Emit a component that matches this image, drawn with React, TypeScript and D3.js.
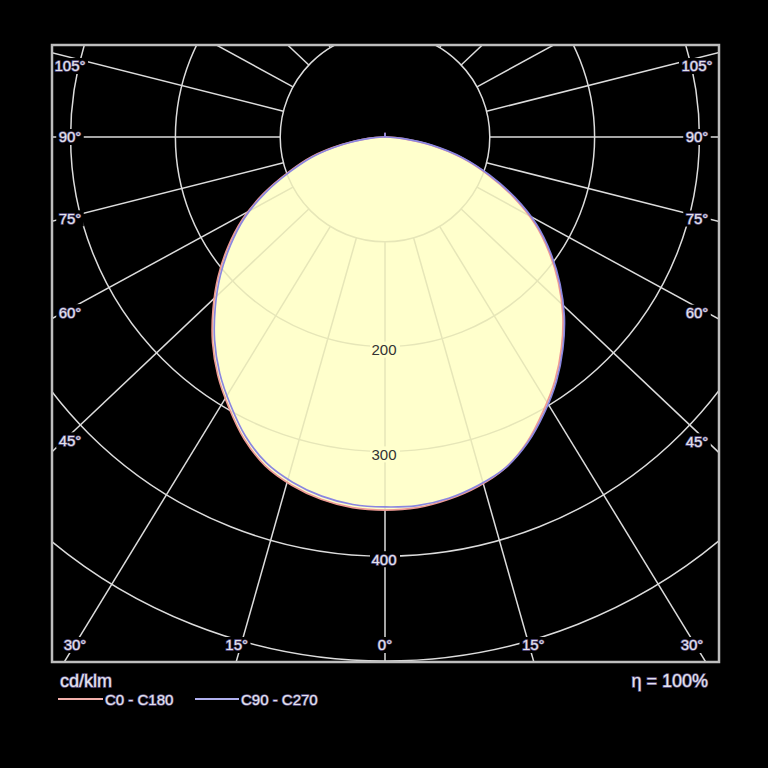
import * as d3 from "d3";

// gamma angles (deg) of the measured intensities
const gammas = [
  0, 5, 10, 15, 20, 25, 30, 35, 40, 45, 50, 55, 60, 65, 70, 75, 80, 85, 90,
  95, 100, 105, 110, 115, 120, 125, 130, 135, 140, 145, 150, 155, 160, 165, 170, 175, 180,
];

// cd/klm
const c180 = [
  356, 355, 351, 344, 334, 318, 298, 278, 256, 232, 208, 183, 157, 128, 98, 72, 42, 16, 2,
  0, 0, 0, 0, 0, 0, 0, 0, 0, 0, 0, 0, 0, 0, 0, 0, 0, 4,
];
const c0 = [
  356, 355, 351, 345, 336, 321, 302, 283, 262, 240, 216, 191, 165, 135, 104, 75, 45, 17, 2,
  0, 0, 0, 0, 0, 0, 0, 0, 0, 0, 0, 0, 0, 0, 0, 0, 0, 4,
];
const c270 = [
  353, 352, 348, 341, 331, 315, 295, 275, 253, 229, 205, 180, 155, 126, 96, 70, 41, 15, 2,
  0, 0, 0, 0, 0, 0, 0, 0, 0, 0, 0, 0, 0, 0, 0, 0, 0, 4,
];
const c90 = [
  354, 353, 350, 344, 336, 322, 304, 285, 264, 242, 218, 193, 167, 137, 106, 77, 46, 18, 2,
  0, 0, 0, 0, 0, 0, 0, 0, 0, 0, 0, 0, 0, 0, 0, 0, 0, 4,
];

const rings = [100, 200, 300, 400, 500];
const ringLabels = [200, 300, 400];
const spokes = [0, 15, 30, 45, 60, 75, 90, 105, 120, 135, 150, 165, 180];
const spokeLabels = [0, 15, 30, 45, 60, 75, 90, 105];

const W = 768;
const H = 768;
const frame = { x0: 52, y0: 45, x1: 719, y1: 662 };
const cx = 385;
const cy = 137;
const squash = 0.945; // the spokes are drawn slightly flattened in the original
const font = "'Liberation Sans', Arial, sans-serif";
const gridColor = "#dcdcdc";
const fillColor = "#ffffcc";

const r = d3.scaleLinear().domain([0, 100]).range([0, 104.8]);
const rad = (deg: number) => (deg * Math.PI) / 180;

function curvePath(left: number[], right: number[]) {
  const pts: [number, number][] = [];
  for (let i = gammas.length - 1; i >= 0; i--) pts.push([Math.PI + rad(gammas[i]), r(left[i])]);
  for (let i = 1; i < gammas.length - 1; i++) pts.push([Math.PI - rad(gammas[i]), r(right[i])]);
  return d3
    .lineRadial<[number, number]>()
    .angle((d) => d[0])
    .radius((d) => d[1])
    .curve(d3.curveCatmullRomClosed.alpha(0.5))(pts) as string;
}

function spokeDir(deg: number, side: number) {
  const dx = side * Math.sin(rad(deg));
  const dy = Math.cos(rad(deg)) * squash;
  const len = Math.hypot(dx, dy);
  return [dx / len, dy / len];
}

const spokeLines = spokes.flatMap((a) =>
  (a === 0 || a === 180 ? [1] : [-1, 1]).map((s) => {
    const [dx, dy] = spokeDir(a, s);
    return { key: `${a}_${s}`, x1: cx + dx * r(100), y1: cy + dy * r(100), x2: cx + dx * 900, y2: cy + dy * 900 };
  })
);

// label sits where the spoke leaves the plot, pulled inside the frame
const angleLabelPos = spokeLabels.flatMap((a) =>
  (a === 0 ? [1] : [-1, 1]).map((s) => {
    const [dx, dy] = spokeDir(a, s);
    const sideX = s < 0 ? cx - 64 : 707 - cx;
    const tx = Math.abs(dx) > 1e-6 ? sideX / Math.abs(dx) : Infinity;
    const ty = dy > 1e-6 ? (660 - cy) / dy : Infinity;
    let x: number;
    let y: number;
    if (tx <= ty) {
      x = s < 0 ? 70 : 697;
      y = Math.max(66, cy + dy * tx);
    } else {
      x = Math.min(692, Math.max(75, cx + dx * ty));
      y = 645;
    }
    return { key: `${a}_${s}`, text: `${a}°`, x, y };
  })
);

const haloText = {
  fill: "#e4e4ec",
  stroke: "#625686",
  strokeWidth: 1.4,
  paintOrder: "stroke" as const,
};

function Grid({ stroke }: { stroke: string }) {
  return (
    <g fill="none" stroke={stroke} strokeWidth={1.5}>
      {rings.map((v) => (
        <circle key={v} cx={cx} cy={cy} r={r(v)} />
      ))}
      {spokeLines.map((l) => (
        <line key={l.key} x1={l.x1} y1={l.y1} x2={l.x2} y2={l.y2} />
      ))}
    </g>
  );
}

export default function App() {
  const pathC0 = curvePath(c180, c0);
  const pathC90 = curvePath(c270, c90);

  return (
    <svg width={W} height={H} style={{ position: "absolute", left: 0, top: 0 }} fontFamily={font}>
      <defs>
        <clipPath id="frameClip">
          <rect x={frame.x0} y={frame.y0} width={frame.x1 - frame.x0} height={frame.y1 - frame.y0} />
        </clipPath>
        <clipPath id="curveClip">
          <path d={pathC0} transform={`translate(${cx},${cy})`} />
          <path d={pathC90} transform={`translate(${cx},${cy})`} />
        </clipPath>
      </defs>
      <rect width={W} height={H} fill="#000" />

      <g clipPath="url(#frameClip)">
        <Grid stroke={gridColor} />
        <g transform={`translate(${cx},${cy})`}>
          <path d={pathC0} fill={fillColor} />
          <path d={pathC90} fill={fillColor} />
        </g>
        <g clipPath="url(#curveClip)">
          <Grid stroke="#e6e6b8" />
        </g>
        <g transform={`translate(${cx},${cy})`} fill="none" strokeWidth={1.7}>
          <path d={pathC0} stroke="#ee9a94" />
          <path d={pathC90} stroke="#8a86e0" />
        </g>
      </g>

      {/* intensity ring labels */}
      {ringLabels.map((v) => {
        const y = cy + r(v) + 3;
        const inside = v < 356;
        return (
          <g key={v}>
            <rect x={cx - 15} y={y - 8} width={30} height={16} fill={inside ? fillColor : "#000"} />
            <text
              x={cx - 1}
              y={y}
              dy="0.36em"
              textAnchor="middle"
              fontSize={15}
              {...(inside ? { fill: "#333333" } : haloText)}
            >
              {v}
            </text>
          </g>
        );
      })}

      {/* angle labels */}
      {angleLabelPos.map((d) => {
        const w = d.text.length * 8.5 + 2;
        return (
          <g key={d.key}>
            <rect x={d.x - w / 2} y={d.y - 8} width={w} height={16} fill="#000" />
            <text x={d.x} y={d.y} dy="0.36em" textAnchor="middle" fontSize={15} {...haloText}>
              {d.text}
            </text>
          </g>
        );
      })}

      <rect
        x={frame.x0}
        y={frame.y0}
        width={frame.x1 - frame.x0}
        height={frame.y1 - frame.y0}
        fill="none"
        stroke="#bdbdbd"
        strokeWidth={2.5}
      />

      {/* footer */}
      <text x={60} y={687} fontSize={18} {...haloText}>
        cd/klm
      </text>
      <text x={708} y={687} fontSize={18} textAnchor="end" {...haloText}>
        η = 100%
      </text>
      <line x1={58} x2={103} y1={699} y2={699} stroke="#f2b0ac" strokeWidth={2} />
      <text x={105} y={705} fontSize={15} {...haloText}>
        C0 - C180
      </text>
      <line x1={195} x2={239} y1={699} y2={699} stroke="#b0b0ee" strokeWidth={2} />
      <text x={241} y={705} fontSize={15} {...haloText}>
        C90 - C270
      </text>
    </svg>
  );
}
